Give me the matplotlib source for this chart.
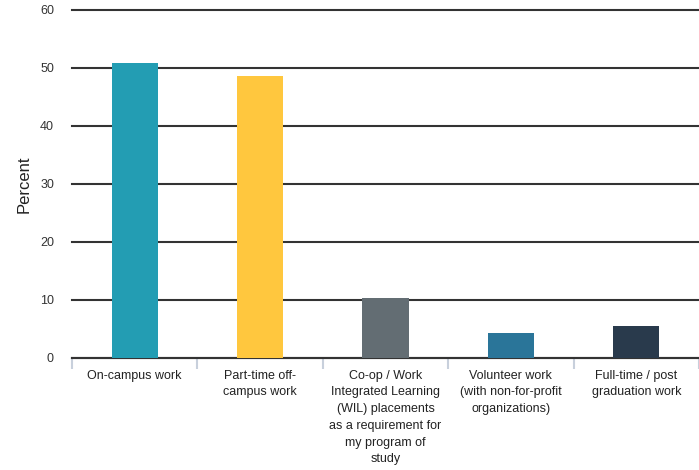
import matplotlib
matplotlib.use("Agg")
import matplotlib.pyplot as plt
import numpy as np

categories = [
    "On-campus work",
    "Part-time off-\ncampus work",
    "Co-op / Work\nIntegrated Learning\n(WIL) placements\nas a requirement for\nmy program of\nstudy",
    "Volunteer work\n(with non-for-profit\norganizations)",
    "Full-time / post\ngraduation work",
]
values = [50.9, 48.7, 10.3, 4.3, 5.5]
colors = ["#239db3", "#ffc73e", "#636d73", "#2a7599", "#293a4c"]
yticks = [0, 10, 20, 30, 40, 50, 60]

plt.rcParams['font.family'] = ['Liberation Sans', 'DejaVu Sans']

fig = plt.figure(figsize=(6.99, 4.70), dpi=100)
ax = fig.add_axes([72/699, 1-358/470, 1-72/699, (358-10)/470])

x = np.arange(len(categories))
ax.bar(x, values, width=0.37, color=colors, zorder=3)

ax.set_ylim(0, 60)
ax.set_xlim(-0.5, len(categories) - 0.5)
ax.set_yticks(yticks)
ax.yaxis.grid(True, color="#333333", linewidth=1.5, zorder=0)
for gl in ax.get_ygridlines():
    gl.set_clip_on(False)
ax.set_axisbelow(True)
for s in ["top", "right", "left"]:
    ax.spines[s].set_visible(False)
ax.spines["bottom"].set_color("#333333")
ax.spines["bottom"].set_linewidth(1.5)
ax.tick_params(axis="y", length=0, pad=13, labelsize=9, labelcolor="#333333")

ax.set_xticks(x)
ax.set_xticklabels(categories, fontsize=9, linespacing=1.52, color="#222222")
ax.tick_params(axis="x", which="major", length=0, pad=8.5)
ax.set_xticks(np.arange(-0.5, len(categories), 1.0), minor=True)
ax.tick_params(axis="x", which="minor", length=8, width=1.5, color="#c8d0dc")

ax.set_ylabel("Percent", fontsize=12, color="#222222", labelpad=6)

fig.savefig("out.png", dpi=100)
